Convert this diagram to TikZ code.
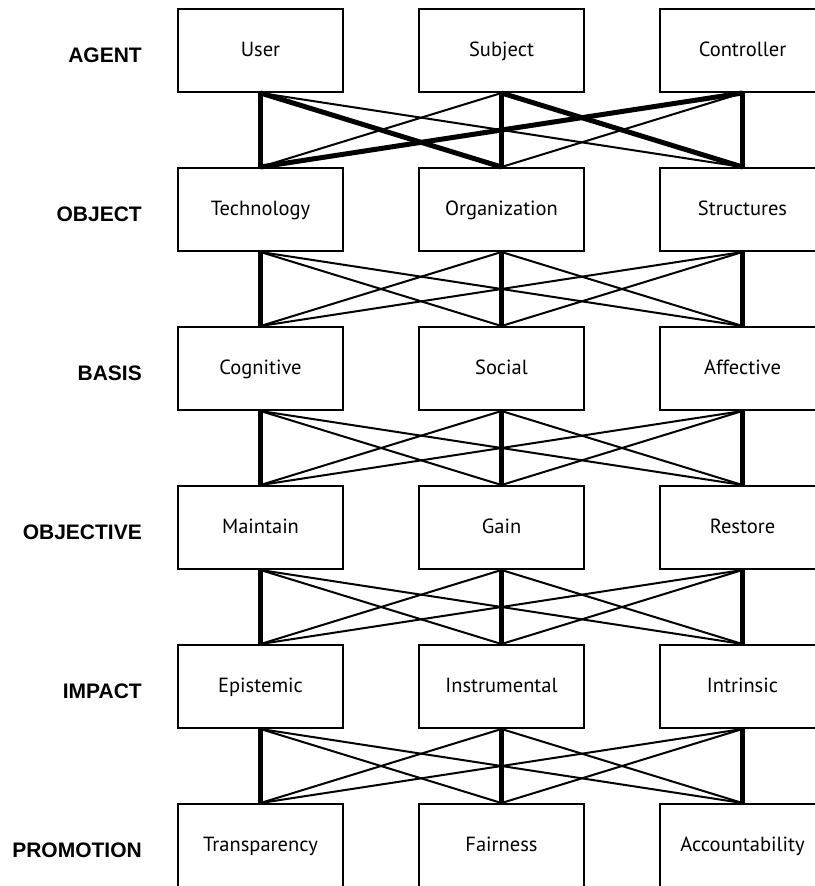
\documentclass[tikz,border=0pt]{standalone}
\usepackage{fontspec}
\setmainfont{PT Sans}
\newfontfamily\lblfont{Liberation Sans}
\begin{document}
\begin{tikzpicture}[x=1pt,y=-1pt,
  box/.style={draw,line width=2pt,minimum width=165pt,minimum height=83pt,inner sep=0pt,
    text height=1.2em,text depth=0pt,font=\fontsize{20.5}{24}\selectfont},
  rowlbl/.style={anchor=base east,inner sep=0pt,font=\lblfont\bfseries\fontsize{21}{24}\selectfont},
  lnk/.style={line width=2pt},
  lnkbold/.style={line width=5pt}]
\useasboundingbox (0,0) rectangle (814,886);
\foreach \r/\y/\lab/\A/\B/\C in {
  1/50.5/AGENT/User/Subject/Controller,
  2/209.5/OBJECT/Technology/Organization/Structures,
  3/368.5/BASIS/Cognitive/Social/Affective,
  4/527.5/OBJECTIVE/Maintain/Gain/Restore,
  5/686.5/IMPACT/Epistemic/Instrumental/Intrinsic,
  6/845.5/PROMOTION/Transparency/Fairness/Accountability}{
  \node[rowlbl] (L\r) at (142,\y+11.5) {\lab};
  \node[box] (n\r-a) at (260.5,\y) {\A};
  \node[box] (n\r-b) at (501.5,\y) {\B};
  \node[box] (n\r-c) at (742.5,\y) {\C};
}
% first gap: mixed weights
\draw[lnk] (n1-a.south) -- (n2-c.north);
\draw[lnk] (n1-b.south) -- (n2-a.north);
\draw[lnk] (n1-c.south) -- (n2-b.north);
\draw[lnkbold] (n1-a.south) -- (n2-b.north);
\draw[lnkbold] (n1-b.south) -- (n2-c.north);
\draw[lnkbold] (n1-c.south) -- (n2-a.north);
\foreach \i in {a,b,c}{\draw[lnkbold] (n1-\i.south) -- (n2-\i.north);}
% remaining gaps
\foreach \r/\s in {2/3,3/4,4/5,5/6}{
  \foreach \i/\j in {a/b,a/c,b/a,b/c,c/a,c/b}{
    \draw[lnk] (n\r-\i.south) -- (n\s-\j.north);
  }
  \foreach \i in {a,b,c}{\draw[lnkbold] (n\r-\i.south) -- (n\s-\i.north);}
}
\end{tikzpicture}
\end{document}
